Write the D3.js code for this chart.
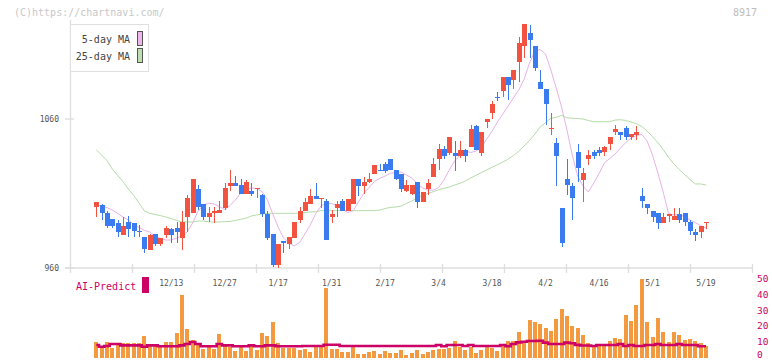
<!DOCTYPE html>
<html><head><meta charset="utf-8">
<script src="https://cdn.jsdelivr.net/npm/d3@7"></script>
<style>
html,body{margin:0;padding:0;background:#fff;}
svg{display:block;font-family:"DejaVu Sans Mono",monospace;}
</style></head>
<body>
<svg id="c" width="772" height="361"></svg>
<script>
const dates = ["11/25","11/26","11/27","11/28","11/29","12/2","12/3","12/4","12/5","12/6","12/9","12/10","12/11","12/12","12/13","12/16","12/17","12/18","12/19","12/20","12/23","12/24","12/25","12/26","12/27","12/30","1/6","1/7","1/8","1/9","1/10","1/14","1/15","1/16","1/17","1/20","1/21","1/22","1/23","1/24","1/27","1/28","1/29","1/30","1/31","2/3","2/4","2/5","2/6","2/7","2/10","2/12","2/13","2/14","2/17","2/18","2/19","2/20","2/21","2/25","2/26","2/27","2/28","3/3","3/4","3/5","3/6","3/7","3/10","3/11","3/12","3/13","3/14","3/17","3/18","3/19","3/21","3/24","3/25","3/26","3/27","3/28","3/31","4/1","4/2","4/3","4/4","4/7","4/8","4/9","4/10","4/11","4/14","4/15","4/16","4/17","4/18","4/21","4/22","4/23","4/24","4/25","4/28","4/30","5/1","5/2","5/7","5/8","5/9","5/12","5/13","5/14","5/15","5/16","5/19"];
const open  = [1001,1002,997,993,990,982,991,990,985,981,972,983,976,982,986,987,980,994,997,1013,1003,994,997,997,1000,1015,1017,1016,1010,1012,1013,1009,996,983,962,978,976,980,992,998,1003,1008,1007,1005,994,1000,1005,998,1003,1020,1015,1018,1023,1026,1030,1033,1026,1023,1012,1010,1018,1004,1013,1021,1033,1040,1037,1037,1035,1039,1041,1055,1037,1058,1064,1075,1079,1088,1086,1098,1109,1118,1109,1085,1080,1053,1044,1000,1020,1015,1038,1019,1033,1038,1039,1038,1043,1051,1051,1054,1048,1049,1008,1003,998,997,990,996,992,996,997,991,984,984,990];
const high  = [1004,1003,998,993,992,994,995,990,989,981,983,983,980,988,987,991,998,1009,1020,1016,1003,1001,1001,1005,1017,1026,1022,1020,1019,1017,1014,1010,998,983,976,978,981,991,1001,1007,1013,1017,1007,1006,999,1005,1006,1006,1020,1020,1021,1024,1029,1030,1031,1033,1026,1023,1019,1016,1018,1011,1020,1034,1043,1042,1048,1045,1045,1040,1056,1056,1051,1060,1072,1078,1088,1088,1093,1115,1124,1123,1109,1093,1080,1064,1047,1000,1033,1017,1043,1027,1039,1039,1041,1042,1048,1056,1051,1055,1050,1055,1014,1003,998,997,997,996,1000,1000,997,992,986,988,991];
const low   = [994,992,987,987,981,982,981,981,981,970,972,975,975,980,977,977,972,984,997,999,992,991,990,997,999,1012,1015,1010,1010,1008,1007,994,979,961,960,970,973,980,990,998,1003,1006,1000,979,990,994,998,998,1003,1008,1010,1017,1023,1025,1024,1026,1019,1011,1011,1009,1000,1004,1009,1021,1026,1033,1036,1025,1034,1031,1041,1039,1035,1054,1060,1072,1075,1073,1080,1085,1101,1101,1092,1080,1056,1049,1015,974,1009,992,1018,1004,1029,1033,1035,1035,1039,1049,1046,1046,1046,1046,1000,996,991,986,990,991,992,990,988,982,978,980,986];
const close = [1004,997,988,988,984,988,986,985,984,973,982,976,980,987,982,984,991,1007,1020,1001,994,997,998,999,1014,1017,1015,1010,1018,1010,1014,996,980,962,976,977,981,991,998,1004,1008,1006,1007,979,996,1003,998,1006,1020,1015,1018,1020,1029,1025,1025,1026,1020,1013,1016,1016,1004,1011,1017,1030,1040,1035,1048,1035,1039,1035,1053,1039,1051,1060,1070,1074,1088,1083,1093,1111,1124,1113,1094,1080,1070,1054,1035,977,1016,1007,1027,1024,1036,1035,1037,1041,1048,1053,1049,1048,1050,1051,1005,1000,994,990,994,996,995,992,991,985,982,988,991];
const ma5 = [1002.3,1001.6,1000.6,998.9,996.6,994.2,992.2,989.2,987.2,985.2,984.2,981.1,979.9,978.8,978.8,980.1,981.5,984.2,990.2,997.9,1002.3,1003.4,1003.0,1001.3,999.3,1001.9,1005.6,1010.3,1013.0,1013.7,1013.4,1011.3,1005.6,996.2,987.5,980.1,976.8,974.8,977.1,982.8,988.9,996.2,1001.6,1003.3,1003.3,1001.6,999.3,997.2,998.3,1004.3,1010.1,1014.0,1018.1,1020.2,1021.7,1023.6,1024.1,1024.4,1022.4,1020.4,1016.7,1013.7,1012.3,1012.3,1014.0,1019.1,1025.8,1031.8,1035.8,1038.5,1037.5,1038.5,1040.9,1046.6,1051.9,1058.0,1063.3,1068.7,1074.1,1079.5,1086.8,1097.6,1105.6,1106.6,1103.6,1092.9,1080.8,1068.0,1052.6,1035.8,1021.7,1015.0,1011.0,1017.0,1023.4,1030.5,1033.5,1036.5,1040.5,1044.2,1047.2,1048.9,1049.6,1045.2,1035.8,1023.8,1011.0,996.6,995.6,995.6,994.6,992.2,990.5,988.5,986.8];
const ma25 = [1039.2,1035.8,1032.1,1026.4,1022.1,1017.9,1013.0,1008.7,1003.6,998.3,996.7,995.9,995.2,994.2,993.2,991.9,990.9,990.9,990.9,991.5,991.5,991.0,990.9,990.9,991.1,991.3,991.9,992.7,993.4,994.9,995.6,996.2,996.7,996.7,996.7,996.7,996.7,996.7,996.9,997.2,997.6,997.8,998.5,998.5,998.5,998.5,998.5,998.5,998.5,998.5,998.5,998.5,998.5,998.9,999.9,1000.7,1000.9,1001.6,1003.3,1005.0,1007.0,1008.7,1010.0,1011.2,1012.5,1013.5,1014.4,1015.7,1016.8,1018.4,1020.4,1022.2,1024.1,1025.8,1027.6,1029.3,1031.1,1033.1,1035.5,1038.3,1041.9,1045.6,1049.9,1054.6,1057.6,1060.5,1061.1,1062.5,1060.8,1060.5,1060.3,1060.0,1059.0,1058.2,1058.2,1058.2,1058.2,1059.3,1059.5,1059.0,1058.0,1056.8,1055.0,1051.9,1048.2,1044.2,1039.5,1034.2,1029.8,1026.1,1022.7,1019.4,1016.4,1016.4,1015.7];
const volume = [10.0,7.3,10.0,6.2,9.0,9.4,9.4,9.4,9.0,13.6,8.5,7.3,6.9,10.0,10.0,15.7,39.6,18.0,11.1,8.5,5.4,6.9,5.4,14.9,7.7,6.9,4.3,6.4,4.3,7.9,4.7,15.7,13.6,22.5,9.4,6.2,6.2,6.2,4.7,5.4,3.7,6.4,6.4,44.2,5.4,5.4,3.7,3.7,6.4,2.2,2.2,3.7,4.3,2.2,4.3,3.0,3.0,4.7,1.6,3.0,4.7,2.2,3.7,4.7,5.4,5.2,6.2,10.4,6.4,4.7,6.4,3.0,4.7,6.4,6.2,4.3,7.9,10.4,10.4,16.3,10.0,23.7,22.7,21.2,18.5,16.8,24.4,30.7,26.3,19.9,18.7,14.2,9.4,7.3,7.3,8.5,10.7,12.6,11.5,26.9,23.1,33.2,49.7,22.5,13.2,25.0,16.3,10.0,16.3,14.2,11.1,11.7,10.4,9.0,7.3];
const aiPredict = [7.9,6.8,7.3,8.5,8.5,7.7,7.7,7.7,7.7,6.8,7.7,7.7,7.1,7.1,7.1,7.1,7.7,8.5,9.8,8.5,7.1,7.1,7.1,8.5,7.7,7.7,7.1,7.1,7.1,7.7,7.1,7.1,7.7,7.7,7.1,7.1,7.1,7.1,7.1,7.3,7.3,7.3,7.3,8.1,8.1,8.1,7.3,7.3,7.3,7.3,7.3,7.3,7.3,7.3,7.3,7.3,7.3,7.3,7.3,7.3,7.3,7.3,7.3,7.3,7.9,7.1,7.9,7.9,7.9,7.3,7.9,7.3,7.3,7.3,7.3,7.3,7.9,7.1,8.5,9.6,10.0,10.4,10.4,10.6,9.4,8.5,8.5,8.5,9.4,9.0,8.0,7.6,7.6,7.3,7.9,7.9,7.9,7.9,8.5,7.3,7.9,7.3,7.3,7.9,7.9,8.5,7.9,7.9,7.9,8.5,7.9,7.9,7.9,7.1,7.1];
const xTickLabels = ["12/13","12/27","1/17","1/31","2/17","3/4","3/18","4/2","4/16","5/1","5/19"];
const priceTicks = [960, 1060];
const volTicks = [0, 10, 20, 30, 40, 50];

const svg = d3.select("#c");
const UP = "#f25240", DOWN = "#3b7bf0", AXIS = "#dedede", MAG = "#cc0066";
const idx = d3.range(dates.length);

// scales
const x = d3.scaleLinear().domain([0, dates.length - 1]).range([96.3, 706]);
const y = d3.scaleLinear().domain([960, 1060]).range([268, 119]);
const yv = d3.scaleLinear().domain([0, 50]).range([357.5, 278.5]);
const gridX = d3.scaleLinear().domain([0, 11]).range([70, 752]);

// header texts
svg.append("text").attr("x", 14).attr("y", 16).attr("font-size", 10).attr("fill", "#c8c8c8").text("(C)https://chartnavi.com/");
svg.append("text").attr("x", 757).attr("y", 16).attr("font-size", 10).attr("fill", "#bdbdbd").attr("text-anchor", "end").text("8917");

// axes lines
svg.append("line").attr("x1", 70.5).attr("x2", 70.5).attr("y1", 20).attr("y2", 268).attr("stroke", AXIS).attr("stroke-width", 1.3);
svg.append("line").attr("x1", 65).attr("x2", 752).attr("y1", 268).attr("y2", 268).attr("stroke", AXIS).attr("stroke-width", 1.6);
svg.selectAll(".gt").data(d3.range(12)).join("line")
  .attr("x1", d => Math.round(gridX(d)) + 0.5).attr("x2", d => Math.round(gridX(d)) + 0.5)
  .attr("y1", 264).attr("y2", 273).attr("stroke", AXIS).attr("stroke-width", 1.3);
svg.selectAll(".pt").data(priceTicks).join("line")
  .attr("x1", 65).attr("x2", 74).attr("y1", d => y(d)).attr("y2", d => y(d)).attr("stroke", AXIS).attr("stroke-width", 1.3);
svg.selectAll(".pl").data(priceTicks).join("text")
  .attr("x", 59).attr("y", d => y(d) + 3).attr("text-anchor", "end").attr("font-size", 8).attr("fill", "#555").text(d => d);

// x labels
svg.selectAll(".xl").data(xTickLabels).join("text")
  .attr("x", d => x(dates.indexOf(d))).attr("y", 286).attr("text-anchor", "middle")
  .attr("font-size", 8).attr("fill", "#555").text(d => d);

// MA lines
const maLine = arr => d3.line().x((d, i) => x(i)).y(d => y(d))(arr);
svg.append("path").attr("d", maLine(ma25)).attr("fill", "none").attr("stroke", "#b4dca8").attr("stroke-width", 1);
svg.append("path").attr("d", maLine(ma5)).attr("fill", "none").attr("stroke", "#e8b2e8").attr("stroke-width", 1);

// candles
const cg = svg.append("g").attr("shape-rendering", "crispEdges");
cg.selectAll(".wk").data(idx).join("line")
  .attr("x1", i => Math.round(x(i)) + 0.5).attr("x2", i => Math.round(x(i)) + 0.5)
  .attr("y1", i => y(high[i])).attr("y2", i => y(low[i]))
  .attr("stroke", i => close[i] >= open[i] ? UP : DOWN).attr("stroke-width", 1);
cg.selectAll(".bd").data(idx).join("rect")
  .attr("x", i => Math.round(x(i)) - 2).attr("width", 5)
  .attr("y", i => y(Math.max(open[i], close[i])))
  .attr("height", i => Math.max(1.5, Math.abs(y(open[i]) - y(close[i]))))
  .attr("fill", i => close[i] >= open[i] ? UP : DOWN);

// legend
svg.append("rect").attr("x", 70.5).attr("y", 24.5).attr("width", 78).attr("height", 47).attr("fill", "#fff").attr("stroke", "#e0e0e0");
const legend = [["5-day MA", "#ecb8ec", 31], ["25-day MA", "#bcdeb0", 48]];
legend.forEach(([t, c, yy]) => {
  svg.append("text").attr("x", 130).attr("y", yy + 12).attr("text-anchor", "end").attr("font-size", 10).attr("fill", "#444").text(t);
  svg.append("rect").attr("x", 137.5).attr("y", yy + 0.5).attr("width", 5).attr("height", 14).attr("fill", c).attr("stroke", "#555");
});

// volume panel
svg.append("text").attr("x", 76).attr("y", 290).attr("font-size", 10).attr("fill", MAG).text("AI-Predict");
svg.append("rect").attr("x", 142).attr("y", 277).attr("width", 7).attr("height", 16).attr("fill", MAG);
svg.append("g").attr("shape-rendering", "crispEdges").selectAll("rect").data(idx).join("rect")
  .attr("x", i => Math.round(x(i)) - 2).attr("width", 4)
  .attr("y", i => yv(volume[i])).attr("height", i => yv(0) - yv(volume[i]))
  .attr("fill", "#f39a40");
svg.append("path").attr("d", d3.line().x((d, i) => x(i)).y(d => yv(d)).curve(d3.curveStep)(aiPredict))
  .attr("fill", "none").attr("stroke", MAG).attr("stroke-width", 2.6);
svg.selectAll(".vl").data(volTicks).join("text")
  .attr("x", 757).attr("y", d => Math.min(yv(d) + 3.5, 357.5)).attr("font-size", 9.5).attr("fill", MAG).text(d => d);
</script>
</body></html>
